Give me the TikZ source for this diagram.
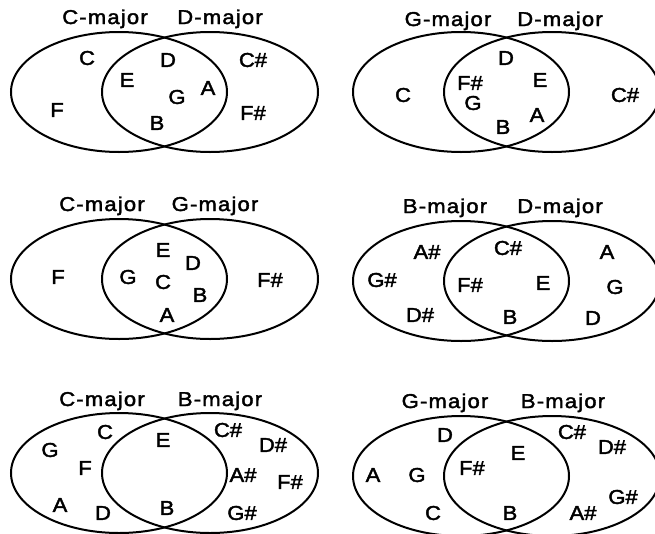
\documentclass[tikz,border=0pt]{standalone}
\usepackage{fontspec}
\setmainfont{Liberation Sans}[FakeStretch=1.1,FakeBold=2]
\newfontfamily\labfont{Liberation Sans}[FakeStretch=1.1,FakeBold=2,LetterSpace=6]
\begin{document}
\begin{tikzpicture}[x=1pt,y=-1pt,
  venn/.style={draw=black,line width=2pt},
  nt/.style={inner sep=0pt,font=\fontsize{20}{22}\selectfont},
  lab/.style={inner sep=0pt,anchor=base,font=\labfont\fontsize{20}{22}\selectfont}]
\clip (0,0) rectangle (655,533);
\fill[white] (0,0) rectangle (655,533);
% ---------- panel 1 ----------
\draw[venn] (119,92) ellipse [x radius=108, y radius=60];
\draw[venn] (210,92) ellipse [x radius=108, y radius=60];
\node[lab] (l1a) at (105,24) {C-major};
\node[lab] (l1b) at (220,24) {D-major};
\node[nt] (p1C) at (87,58) {C};
\node[nt] (p1D) at (168,60) {D};
\node[nt] (p1Cs) at (253,60) {C\#};
\node[nt] (p1E) at (127,80) {E};
\node[nt] (p1A) at (208,88) {A};
\node[nt] (p1G) at (177,97) {G};
\node[nt] (p1F) at (57,110) {F};
\node[nt] (p1Fs) at (253,113) {F\#};
\node[nt] (p1B) at (157,123) {B};
% ---------- panel 2 ----------
\draw[venn] (461,92) ellipse [x radius=108, y radius=60];
\draw[venn] (552,92) ellipse [x radius=108, y radius=60];
\node[lab] (l2a) at (448,26) {G-major};
\node[lab] (l2b) at (560,26) {D-major};
\node[nt] (p2D) at (506,58) {D};
\node[nt] (p2Fs) at (470,83) {F\#};
\node[nt] (p2E) at (540,80) {E};
\node[nt] (p2C) at (403,95) {C};
\node[nt] (p2Cs) at (625,95) {C\#};
\node[nt] (p2G) at (473,103) {G};
\node[nt] (p2A) at (537,115) {A};
\node[nt] (p2B) at (503,127) {B};
% ---------- panel 3 ----------
\draw[venn] (119,279) ellipse [x radius=108, y radius=60];
\draw[venn] (210,279) ellipse [x radius=108, y radius=60];
\node[lab] (l3a) at (102,211) {C-major};
\node[lab] (l3b) at (215,211) {G-major};
\node[nt] (p3E) at (163,250) {E};
\node[nt] (p3D) at (193,263) {D};
\node[nt] (p3F) at (58,277) {F};
\node[nt] (p3G) at (128,277) {G};
\node[nt] (p3C) at (163,282) {C};
\node[nt] (p3Fs) at (270,280) {F\#};
\node[nt] (p3B) at (200,295) {B};
\node[nt] (p3A) at (167,315) {A};
% ---------- panel 4 ----------
\draw[venn] (461,281) ellipse [x radius=108, y radius=60];
\draw[venn] (552,281) ellipse [x radius=108, y radius=60];
\node[lab] (l4a) at (445,213) {B-major};
\node[lab] (l4b) at (560,213) {D-major};
\node[nt] (p4Cs) at (508,248) {C\#};
\node[nt] (p4As) at (427,252) {A\#};
\node[nt] (p4A) at (607,252) {A};
\node[nt] (p4Gs) at (382,280) {G\#};
\node[nt] (p4Fs) at (470,285) {F\#};
\node[nt] (p4E) at (543,283) {E};
\node[nt] (p4G) at (615,287) {G};
\node[nt] (p4Ds) at (420,315) {D\#};
\node[nt] (p4B) at (510,317) {B};
\node[nt] (p4D) at (593,318) {D};
% ---------- panel 5 ----------
\draw[venn] (119,473) ellipse [x radius=108, y radius=60];
\draw[venn] (210,473) ellipse [x radius=108, y radius=60];
\node[lab] (l5a) at (102,406) {C-major};
\node[lab] (l5b) at (220,406) {B-major};
\node[nt] (p5C) at (105,432) {C};
\node[nt] (p5E) at (163,440) {E};
\node[nt] (p5Cs) at (228,430) {C\#};
\node[nt] (p5G) at (50,450) {G};
\node[nt] (p5Ds) at (273,445) {D\#};
\node[nt] (p5F) at (85,468) {F};
\node[nt] (p5As) at (243,475) {A\#};
\node[nt] (p5Fs) at (290,482) {F\#};
\node[nt] (p5A) at (60,505) {A};
\node[nt] (p5D) at (103,513) {D};
\node[nt] (p5B) at (167,508) {B};
\node[nt] (p5Gs) at (242,513) {G\#};
% ---------- panel 6 ----------
\draw[venn] (461,476) ellipse [x radius=108, y radius=60];
\draw[venn] (552,476) ellipse [x radius=108, y radius=60];
\node[lab] (l6a) at (445,408) {G-major};
\node[lab] (l6b) at (563,408) {B-major};
\node[nt] (p6D) at (445,435) {D};
\node[nt] (p6Cs) at (572,432) {C\#};
\node[nt] (p6E) at (518,453) {E};
\node[nt] (p6Ds) at (612,447) {D\#};
\node[nt] (p6Fs) at (472,468) {F\#};
\node[nt] (p6A) at (373,475) {A};
\node[nt] (p6G) at (417,475) {G};
\node[nt] (p6Gs) at (623,497) {G\#};
\node[nt] (p6C) at (433,513) {C};
\node[nt] (p6B) at (510,513) {B};
\node[nt] (p6As) at (583,513) {A\#};
\end{tikzpicture}
\end{document}
